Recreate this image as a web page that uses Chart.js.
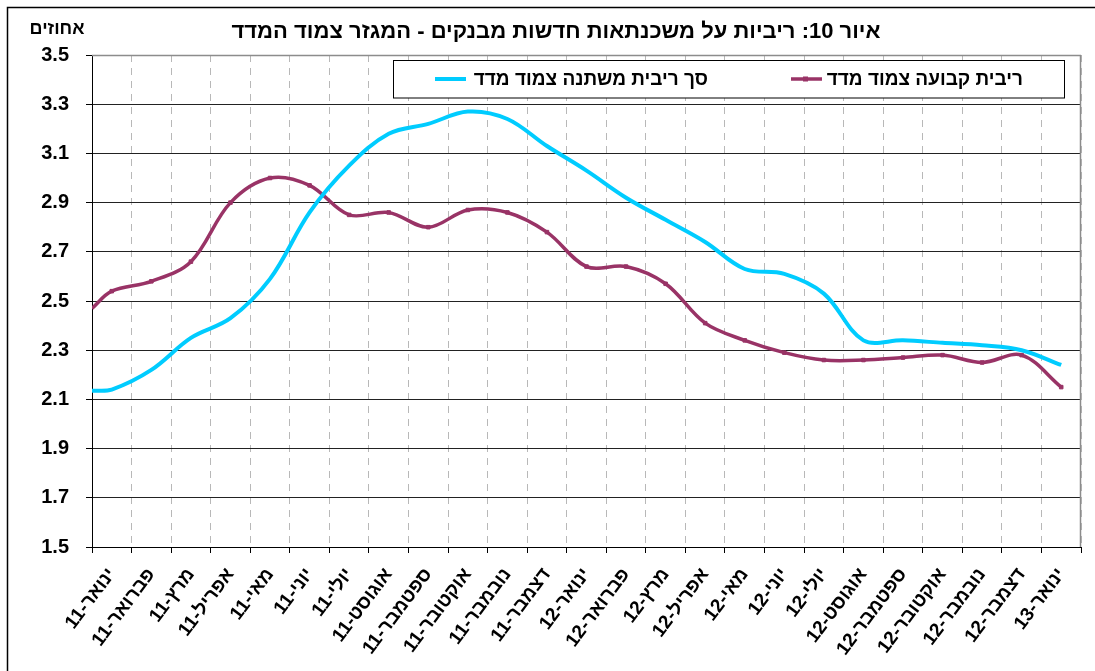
<!DOCTYPE html>
<html lang="he">
<head>
<meta charset="utf-8">
<script src="https://cdn.jsdelivr.net/npm/chart.js@4"></script>
<style>
  html, body { margin: 0; padding: 0; background: #fff; }
  #wrap { width: 1095px; height: 671px; }
</style>
</head>
<body>
<div id="wrap"><canvas id="c" width="1095" height="671"></canvas></div>
<script>
// ---- data ----
const months = ['ינואר-11','פברואר-11','מרץ-11','אפריל-11','מאי-11','יוני-11','יולי-11','אוגוסט-11','ספטמבר-11','אוקטובר-11','נובמבר-11','דצמבר-11',
                'ינואר-12','פברואר-12','מרץ-12','אפריל-12','מאי-12','יוני-12','יולי-12','אוגוסט-12','ספטמבר-12','אוקטובר-12','נובמבר-12','דצמבר-12','ינואר-13'];
// value where each line enters at the left edge of the plot
const fixedEdge = 2.47;
const variableEdge = 2.135;
const fixedRate = [2.54,2.58,2.66,2.90,3.00,2.97,2.85,2.86,2.80,2.87,2.86,2.78,
                   2.64,2.64,2.57,2.41,2.34,2.29,2.26,2.26,2.27,2.28,2.25,2.28,2.15];
const variableRate = [2.14,2.22,2.35,2.43,2.59,2.86,3.05,3.18,3.22,3.27,3.24,3.13,
                      3.03,2.92,2.83,2.74,2.63,2.61,2.53,2.34,2.34,2.33,2.32,2.30,2.24];
const fixedName = 'ריבית קבועה צמוד מדד';
const variableName = 'סך ריבית משתנה צמוד מדד';
const titleText = 'איור 10: ריביות על משכנתאות חדשות מבנקים - המגזר צמוד המדד';
const unitText = 'אחוזים';
const yMin = 1.5, yMax = 3.5, yStep = 0.2;

const FONT = '"Liberation Sans", Arial, sans-serif';
const PURPLE = '#993366';
const CYAN = '#00CCFF';

function toPoints(edge, arr) {
  return [{x: -0.5, y: edge}].concat(arr.map((v, i) => ({x: i, y: v})));
}

const decor = {
  id: 'decor',
  beforeDraw(chart) {
    const ctx = chart.ctx;
    ctx.save();
    ctx.fillStyle = '#fff';
    ctx.fillRect(0, 0, chart.width, chart.height);
    ctx.restore();
  },
  afterDraw(chart) {
    const ctx = chart.ctx;
    const a = chart.chartArea;
    ctx.save();
    // plot right / top border
    ctx.strokeStyle = '#8c8c8c';
    ctx.lineWidth = 1.5;
    ctx.beginPath();
    ctx.moveTo(a.right - 0.5, a.top);
    ctx.lineTo(a.right - 0.5, a.bottom);
    ctx.moveTo(a.left, a.top + 0.5);
    ctx.lineTo(a.right, a.top + 0.5);
    ctx.stroke();
    // outer border
    ctx.strokeStyle = '#000';
    ctx.lineWidth = 1.5;
    ctx.beginPath();
    ctx.moveTo(7.5, chart.height);
    ctx.lineTo(7.5, 7.5);
    ctx.lineTo(chart.width, 7.5);
    ctx.stroke();
    // title
    ctx.direction = 'rtl';
    ctx.fillStyle = '#000';
    ctx.textBaseline = 'middle';
    ctx.textAlign = 'center';
    ctx.font = 'bold 22px ' + FONT;
    ctx.fillText(titleText, 556, 32);
    ctx.font = 'bold 18px ' + FONT;
    ctx.fillText(unitText, 57, 29);
    // legend
    ctx.fillStyle = '#fff';
    ctx.fillRect(393.5, 60.5, 671, 37.5);
    ctx.strokeStyle = '#000';
    ctx.lineWidth = 1;
    ctx.strokeRect(393.5, 60.5, 671, 37.5);
    ctx.lineCap = 'butt';
    ctx.strokeStyle = CYAN;
    ctx.lineWidth = 4;
    ctx.beginPath(); ctx.moveTo(435, 79); ctx.lineTo(466, 79); ctx.stroke();
    ctx.strokeStyle = PURPLE;
    ctx.lineWidth = 3.5;
    ctx.beginPath(); ctx.moveTo(791, 79); ctx.lineTo(822, 79); ctx.stroke();
    ctx.fillStyle = PURPLE;
    ctx.fillRect(803, 76.5, 5, 5);
    ctx.fillStyle = '#000';
    ctx.textAlign = 'right';
    ctx.font = 'bold 19px ' + FONT;
    ctx.fillText(variableName, 708, 80);
    ctx.fillText(fixedName, 1023, 80);
    ctx.restore();
  }
};

new Chart(document.getElementById('c'), {
  type: 'line',
  data: {
    labels: months,
    datasets: [
      {
        label: variableName,
        data: toPoints(variableEdge, variableRate),
        xAxisID: 'xd', yAxisID: 'y',
        borderColor: CYAN, backgroundColor: CYAN,
        borderWidth: 4, pointRadius: 0, tension: 0.35, fill: false
      },
      {
        label: fixedName,
        data: toPoints(fixedEdge, fixedRate),
        xAxisID: 'xd', yAxisID: 'y',
        borderColor: PURPLE, backgroundColor: PURPLE,
        borderWidth: 3.5, tension: 0.35, fill: false,
        pointStyle: 'rect',
        pointRadius: (c) => c.dataIndex === 0 ? 0 : 2.5,
        pointBorderWidth: 1, pointBorderColor: PURPLE
      }
    ]
  },
  options: {
    responsive: false,
    animation: false,
    events: [],
    layout: { padding: { top: 55, left: 0, right: 14, bottom: 0 } },
    plugins: { legend: { display: false }, tooltip: { enabled: false }, title: { display: false } },
    scales: {
      xd: {
        type: 'linear', display: false, min: -0.5, max: 24.5
      },
      x: {
        type: 'category',
        position: 'bottom',
        offset: true,
        afterFit(s) { s.height = 124; },
        grid: {
          offset: true, color: '#b8b8b8', lineWidth: 1,
          drawTicks: true, tickLength: 6, tickColor: '#000', tickWidth: 1
        },
        border: { display: true, color: '#000', width: 1, dash: [7, 6] },
        ticks: {
          autoSkip: false, minRotation: 53, maxRotation: 53, padding: 11,
          color: '#000', font: { family: FONT, size: 19, weight: 'bold' }
        }
      },
      y: {
        type: 'linear',
        position: 'left',
        min: yMin, max: yMax,
        afterFit(s) { s.width = 92; },
        afterBuildTicks(s) {
          const t = [];
          for (let k = 0; k <= Math.round((yMax - yMin) / yStep); k++) t.push({value: +(yMin + k * yStep).toFixed(1)});
          s.ticks = t;
        },
        grid: { color: '#222', lineWidth: 1, drawTicks: true, tickLength: 6, tickColor: '#000' },
        border: { display: true, color: '#000', width: 1 },
        ticks: {
          padding: 17, color: '#000',
          font: { family: FONT, size: 20, weight: 'bold' },
          callback: (v) => Number(v).toFixed(1)
        }
      }
    }
  },
  plugins: [decor]
});
</script>
</body>
</html>
